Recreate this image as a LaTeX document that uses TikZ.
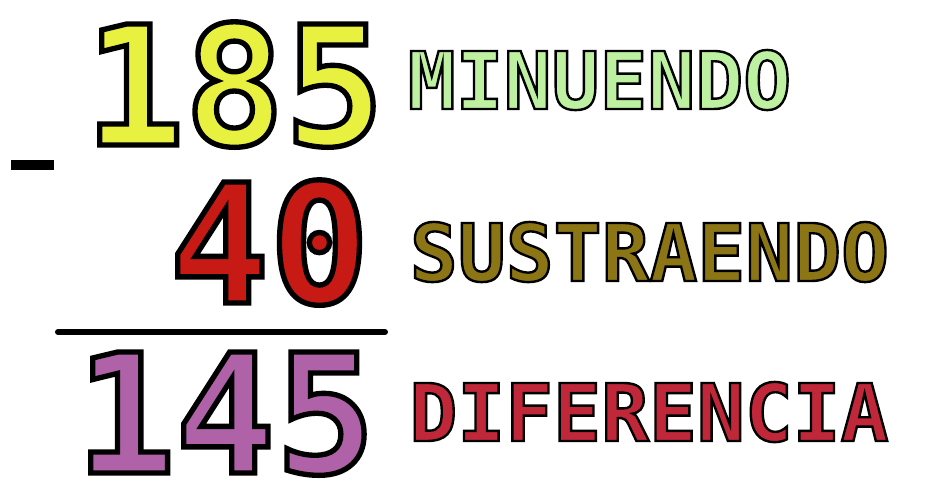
\documentclass[tikz,border=0pt]{standalone}
\usepackage{fontspec}
\usepackage{xcolor}
\usepackage{tikz}
\newfontfamily\digitfont[FakeBold=3.2]{DejaVu Sans Mono Bold}
\newfontfamily\wordfont[FakeBold=3]{DejaVu Sans Mono Bold}
% fill colour first, black outline second
\newcommand{\outlined}[2]{\special{pdf:bcolor [#1] [0 0 0]}#2\special{pdf:ecolor}}

\begin{document}
\begin{tikzpicture}[
  x=0.75pt, y=-0.75pt,
  num/.style={inner sep=0pt, anchor=base, text height=93pt, text depth=0pt, font=\digitfont\fontsize{124.5}{130}\selectfont},
  lab/.style={inner sep=0pt, anchor=base, text height=45pt, text depth=0pt, font=\wordfont\fontsize{59.7}{62}\selectfont},
  bar/.style={line width=4.5pt, line cap=round}
]
\useasboundingbox (0,0) rectangle (944,498);
\node[num] (top) at (234.5,145) {\outlined{0.91 0.941 0.251}{185}};
\node[num] (mid) at (269.5,303) {\outlined{0.784 0.102 0.078}{40}};
\node[num] (res) at (225.5,473) {\outlined{0.69 0.384 0.659}{145}};
\node[lab] (minu) at (599.5,109) {\outlined{0.741 0.941 0.627}{MINUENDO}};
\node[lab] (sust) at (649.5,281) {\outlined{0.549 0.459 0.078}{SUSTRAENDO}};
\node[lab] (dif) at (649,441) {\outlined{0.753 0.157 0.227}{DIFERENCIA}};
\node[fill=black, inner sep=0pt, minimum width=32.25pt, minimum height=7.5pt] (minus) at (32.5,165) {};
\coordinate (barL) at (58,332);
\coordinate (barR) at (385,332);
\draw[bar] (barL) -- (barR);
\end{tikzpicture}
\end{document}
